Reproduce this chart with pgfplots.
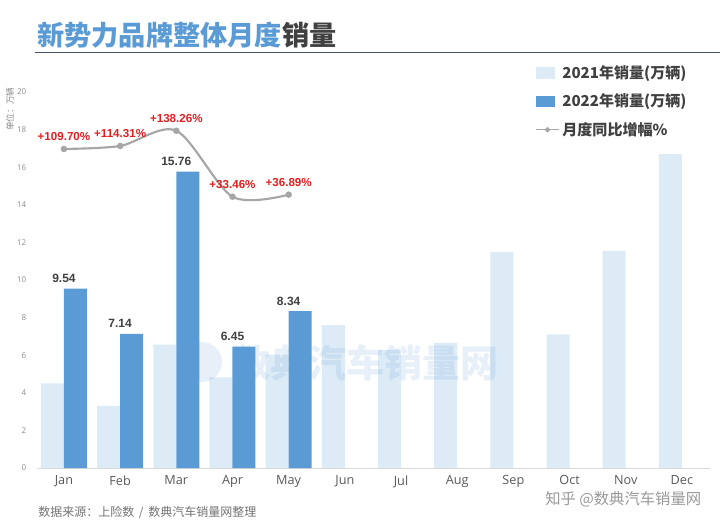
\documentclass[border=0pt]{standalone}
\usepackage{pgfplots}
\pgfplotsset{compat=1.18}
\usepackage{fontspec}
\setmainfont{Open Sans}
\newfontfamily\cjk{Noto Sans CJK SC}
\newfontfamily\arial{Liberation Sans}
\definecolor{c21}{HTML}{DDEBF7}
\definecolor{c22}{HTML}{5B9BD5}
\definecolor{lineC}{HTML}{A6A6A6}
\definecolor{redC}{HTML}{E01F1F}
\definecolor{txt}{HTML}{404040}
\definecolor{tickC}{HTML}{8C8C8C}
\definecolor{monthC}{HTML}{595959}
\definecolor{ruleC}{HTML}{44546A}

\begin{document}
\begin{tikzpicture}
\path[use as bounding box] (0,0) rectangle (540pt,-396.75pt);
\begin{axis}[
  at={(27.75pt,-351pt)}, anchor=south west,
  scale only axis, width=504.75pt, height=282pt,
  xmin=-0.48, xmax=11.5, ymin=0, ymax=20,
  xtick={0,...,11},
  xticklabels={Jan,Feb,Mar,Apr,May,Jun,Jul,Aug,Sep,Oct,Nov,Dec},
  ytick={0,2,...,20},
  axis x line=bottom, axis y line=left,
  x axis line style={draw=black!15, -},
  y axis line style={draw=none},
  major tick length=0pt,
  xticklabel style={font=\fontsize{9.5}{11}\selectfont, text=monthC, yshift=-2pt},
  yticklabel style={font=\fontsize{6}{7}\selectfont, text=tickC, xshift=-4.5pt},
  /pgf/number format/assume math mode=true,
  clip=false,
  legend style={at={(0.74,1.078)}, anchor=north west, draw=none, fill=none,
    font=\cjk\bfseries\fontsize{11.3}{13}\selectfont, text=txt,
    row sep=6pt, inner sep=0pt, cells={anchor=west}},
  legend cell align=left,
]
% 2021 sales (10k units)
\addplot[ybar, bar width=17.25pt, bar shift=-8.625pt, fill=c21, draw=none, forget plot]
  coordinates {(0,4.5) (1,3.3) (2,6.56) (3,4.82) (4,6.03) (5,7.6)
               (6,6.28) (7,6.66) (8,11.5) (9,7.11) (10,11.55) (11,16.7)};
% 2022 sales (10k units)
\addplot[ybar, bar width=17.25pt, bar shift=8.625pt, fill=c22, draw=none, forget plot,
  nodes near coords, point meta=explicit symbolic,
  every node near coord/.append style={font=\arial\bfseries\fontsize{9}{10}\selectfont, text=txt, yshift=1pt}]
  coordinates {(0,9.54)[9.54] (1,7.14)[7.14] (2,15.76)[15.76] (3,6.45)[6.45] (4,8.34)[8.34]};
% YoY growth, drawn at its chart position
\addplot[smooth, lineC, line width=1.6pt, mark=*, mark size=1.6pt,
  mark options={fill=lineC, draw=lineC}, forget plot,
  nodes near coords, point meta=explicit symbolic,
  every node near coord/.append style={font=\arial\bfseries\fontsize{8.7}{10}\selectfont, text=redC, yshift=2pt}]
  coordinates {(0,16.97)[+109.70\%] (1,17.13)[+114.31\%] (2,17.94)[+138.26\%]
               (3,14.43)[+33.46\%] (4,14.54)[+36.89\%]};

\addlegendimage{legend image code/.code={\fill[c21] (0pt,-4pt) rectangle (14pt,4pt);}}
\addlegendentry{2021年销量(万辆)}
\addlegendimage{legend image code/.code={\fill[c22] (0pt,-4pt) rectangle (14pt,4pt);}}
\addlegendentry{2022年销量(万辆)}
\addlegendimage{lineC, line width=1.2pt, mark=*, mark size=1.3pt, mark options={fill=lineC}}
\addlegendentry{月度同比增幅\%}
\end{axis}

\begin{scope}[x=0.75pt, y=-0.75pt]
\node[anchor=west, inner sep=0pt, font=\cjk\bfseries\fontsize{20.4}{24}\selectfont] at (37,35)
  {\textcolor{c22}{新势力品牌整体月度}\textcolor{txt}{销量}};
\draw[ruleC, line width=1.3pt] (35,52.5) -- (720,52.5);
\node[rotate=90, inner sep=0pt, font=\cjk\fontsize{6.5}{7}\selectfont, text=tickC] at (10,109) {单位：万辆};
\node[anchor=west, inner sep=0pt, font=\cjk\fontsize{9}{10}\selectfont, text=black!55] at (38,512)
  {数据来源：上险数 \,/\, 数典汽车销量网整理};
\node[anchor=west, inner sep=0pt, font=\cjk\fontsize{11.5}{13}\selectfont, text=black!40] at (545,499)
  {知乎 @数典汽车销量网};
\fill[c22, opacity=0.15] (202,362) circle (20);
\node[anchor=west, inner sep=0pt, font=\cjk\bfseries\fontsize{28.5}{30}\selectfont, text=c22, opacity=0.15] at (232,363)
  {数典汽车销量网};
\end{scope}
\end{tikzpicture}
\end{document}
